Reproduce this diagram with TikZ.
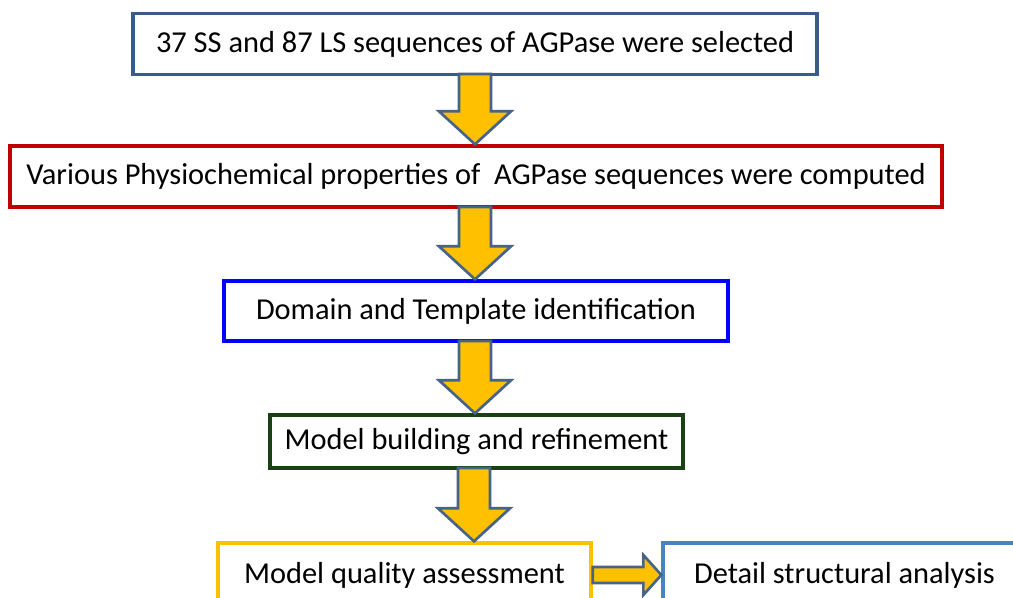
\documentclass[tikz,border=0pt]{standalone}
\usepackage{fontspec}
\setmainfont{Carlito}
\usetikzlibrary{calc}
\definecolor{bOne}{RGB}{56,93,138}
\definecolor{bTwo}{RGB}{192,0,0}
\definecolor{bThree}{RGB}{0,0,255}
\definecolor{bFour}{RGB}{25,65,20}
\definecolor{bFive}{RGB}{255,192,0}
\definecolor{bSix}{RGB}{79,129,189}
\definecolor{arrFill}{RGB}{255,192,0}
\definecolor{arrEdge}{RGB}{70,100,135}
\tikzset{
  box/.style={draw, line width=2.5pt, fill=white, inner sep=0pt, font=\fontsize{22.8}{27}\selectfont, text=black},
  sz/.style 2 args={minimum width=0.75*#1 pt, minimum height=0.75*#2 pt},
  blockarrow/.style={draw=arrEdge, fill=arrFill, line width=2pt, line join=miter},
}
\newcommand\vArrow[2]{%
  \draw[blockarrow] ($(#1)+(-16,0)$) -- ($(#1)+(16,0)$) -- ($(#2)+(16,33)$) -- ($(#2)+(36,33)$) -- (#2) -- ($(#2)+(-36,33)$) -- ($(#2)+(-16,33)$) -- cycle;}
\newcommand\hArrow[2]{%
  \draw[blockarrow] ($(#1)+(0,8)$) -- ($(#2)+(-18,8)$) -- ($(#2)+(-18,20)$) -- (#2) -- ($(#2)+(-18,-20)$) -- ($(#2)+(-18,-8)$) -- ($(#1)+(0,-8)$) -- cycle;}
\begin{document}
\begin{tikzpicture}[x=0.75pt,y=0.75pt]
\clip (0,0) rectangle (1013,598);
\fill[white] (0,0) rectangle (1013,598);
% boxes (y measured upward: 598 - pixel row)
\node[box, draw=bOne, sz={684}{61}] (b1) at (475,554) {37 SS and 87 LS sequences of AGPase were selected};
\node[box, draw=bTwo, sz={932}{61}] (b2) at (476,421.5) {Various Physiochemical properties of~ AGPase sequences were computed};
\node[box, draw=bThree, sz={504}{60}] (b3) at (476,287) {Domain and Template identification};
\node[box, draw=bFour, sz={413}{53}] (b4) at (476.5,156.5) {Model building and refinement};
\node[box, draw=bFive, sz={373}{64}] (b5) at (404.5,23) {Model quality assessment};
\node[box, draw=bSix, sz={363}{64}] (b6) at (844.5,23) {Detail structural analysis};
% arrow end points
\coordinate (a1s) at (475,524);
\coordinate (a1e) at (a1s |- b2.north);
\coordinate (a2s) at (475,391);
\coordinate (a2e) at (a2s |- b3.north);
\coordinate (a3s) at (475,257);
\coordinate (a3e) at (a3s |- b4.north);
\coordinate (a4s) at (474,130);
\coordinate (a4e) at (a4s |- b5.north);
\vArrow{a1s}{a1e}
\vArrow{a2s}{a2e}
\vArrow{a3s}{a3e}
\vArrow{a4s}{a4e}
\hArrow{b5.east}{b6.west}
\end{tikzpicture}
\end{document}
